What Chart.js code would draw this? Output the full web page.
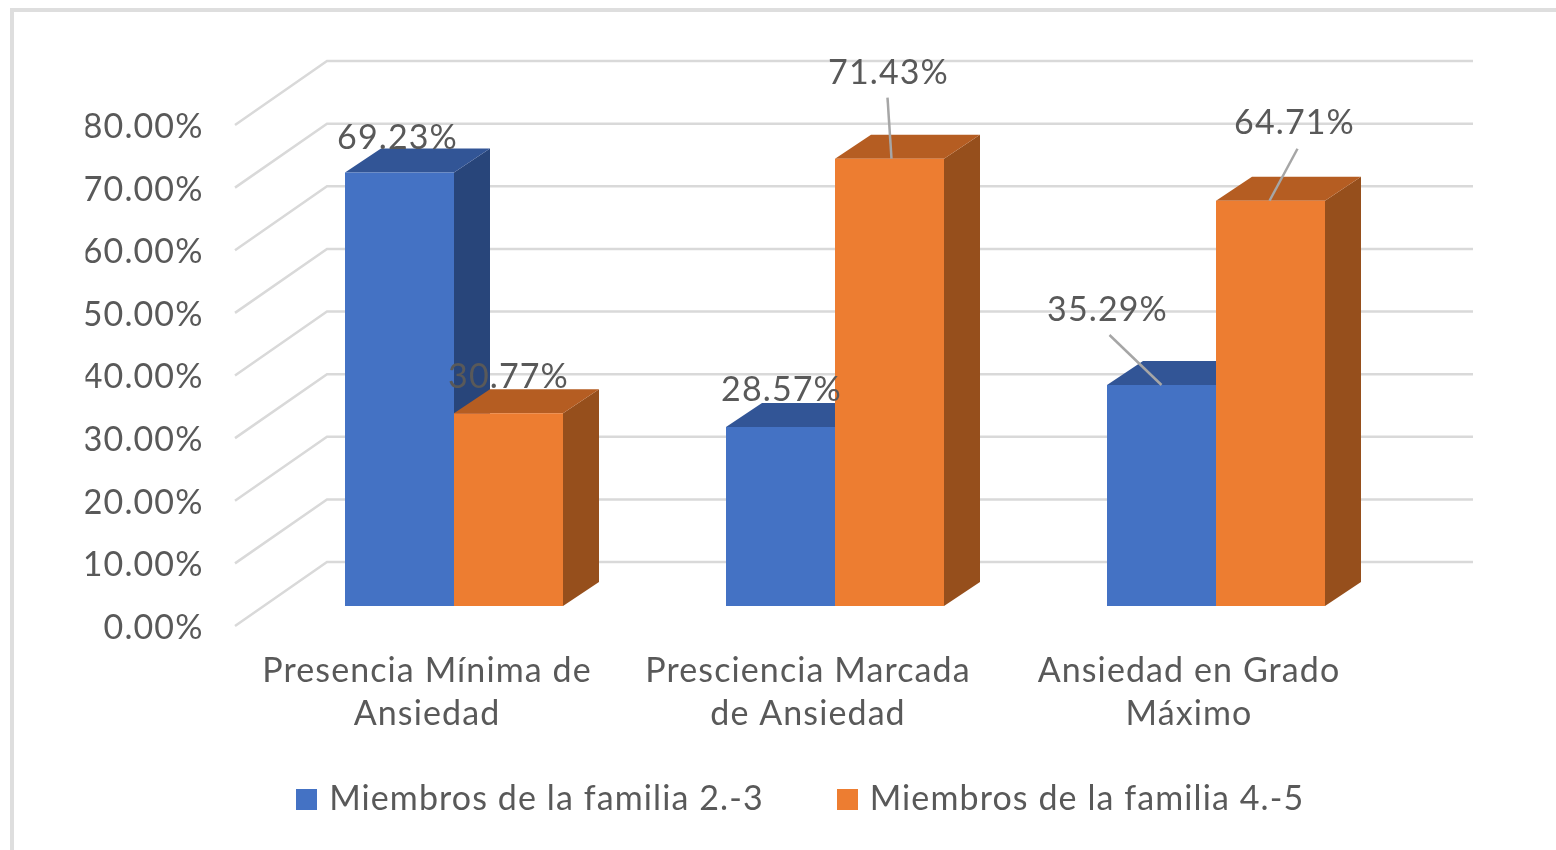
<!DOCTYPE html>
<html>
<head>
<meta charset="utf-8">
<script src="https://cdn.jsdelivr.net/npm/chart.js@4"></script>
<style>
html,body{margin:0;padding:0;background:#fff;overflow:hidden}
#wrap{position:relative;width:1556px;height:850px}
#frame{position:absolute;left:10px;top:8px;right:-10px;bottom:-10px;border-left:4px solid #dedede;border-top:4px solid #dedede}
canvas{position:absolute;left:0;top:0}
</style>
</head>
<body>
<div id="wrap"><div id="frame"></div><canvas id="c" width="1556" height="850"></canvas></div>
<script>
const categories = [["Presencia Mínima de","Ansiedad"],["Presciencia Marcada","de Ansiedad"],["Ansiedad en Grado","Máximo"]];
const seriesNames = ["Miembros de la familia 2.-3","Miembros de la familia 4.-5"];
const familia23 = [69.23,28.57,35.29];
const familia45 = [30.77,71.43,64.71];
const yTicks = [0,10,20,30,40,50,60,70,80];

const FONT = "Lato";
const FONT_SIZE = 34;
const TEXT = "#595959";
const GRID = "#d9d9d9";
const LEADER = "#a6a6a6";
const front = ["#4472C4","#ED7D31"];
const topFace = ["#325596","#B55D22"];
const sideFace = ["#28457A","#964F1C"];
const DEPTH = {x:36,y:-24};
/* label centre offset from the bar's top-centre; leader: [x1,y1,x2,y2] also relative */
const labelLayout = [
 [{dx:-2,dy:-34},{dx:1,dy:-37},{dx:-54,dy:-75,lead:[-52,-50,0,0]}],
 [{dx:0,dy:-36},{dx:-1,dy:-86,lead:[-2,-61,2,0]},{dx:24,dy:-78,lead:[27,-52,-1,0]}]
];

function swatch(color){
  const c=document.createElement('canvas');c.width=21;c.height=21;
  const g=c.getContext('2d');g.fillStyle=color;g.fillRect(0,0,21,21);
  return c;
}
const swatches = front.map(swatch);

const wall3d = {
  id:'wall3d',
  afterLayout(chart){
    const l=chart.legend;
    const dy=-32, dx=27;
    l.top+=dy;l.bottom+=dy;l.left+=dx;l.right+=dx;
  },
  beforeDraw(chart){ chart.ctx.letterSpacing='1.1px'; },
  beforeDatasetsDraw(chart){
    const {ctx,chartArea:a,scales:{y}}=chart;
    ctx.save();
    ctx.strokeStyle=GRID;ctx.lineWidth=2.5;ctx.lineJoin='miter';
    y.ticks.forEach(t=>{
      const py=y.getPixelForValue(t.value)+20;
      ctx.beginPath();
      ctx.moveTo(a.left-28.5,py);
      ctx.lineTo(a.left+63.5,py-64);
      ctx.lineTo(a.right+66.5,py-64);
      ctx.stroke();
    });
    chart.data.datasets.forEach((ds,di)=>{
      chart.getDatasetMeta(di).data.forEach(b=>{
        const l=b.x-b.width/2,r=b.x+b.width/2,t=b.y,bt=b.base;
        ctx.fillStyle=sideFace[di];
        ctx.beginPath();ctx.moveTo(r,t);ctx.lineTo(r+DEPTH.x,t+DEPTH.y);ctx.lineTo(r+DEPTH.x,bt+DEPTH.y);ctx.lineTo(r,bt);ctx.closePath();ctx.fill();
        ctx.fillStyle=topFace[di];
        ctx.beginPath();ctx.moveTo(l,t);ctx.lineTo(l+DEPTH.x,t+DEPTH.y);ctx.lineTo(r+DEPTH.x,t+DEPTH.y);ctx.lineTo(r,t);ctx.closePath();ctx.fill();
      });
    });
    ctx.restore();
  },
  afterDatasetsDraw(chart){
    const {ctx}=chart;
    ctx.save();
    ctx.font=FONT_SIZE+"px "+FONT;ctx.fillStyle=TEXT;ctx.textAlign='center';ctx.textBaseline='middle';
    chart.data.datasets.forEach((ds,di)=>{
      chart.getDatasetMeta(di).data.forEach((b,i)=>{
        const L=labelLayout[di][i];
        if(L.lead){
          ctx.strokeStyle=LEADER;ctx.lineWidth=2.5;
          ctx.beginPath();ctx.moveTo(b.x+L.lead[0],b.y+L.lead[1]);ctx.lineTo(b.x+L.lead[2],b.y+L.lead[3]);ctx.stroke();
        }
        ctx.fillText(ds.data[i].toFixed(2)+'%',b.x+L.dx,b.y+L.dy);
      });
    });
    ctx.restore();
  }
};

new Chart(document.getElementById('c'),{
  type:'bar',
  data:{
    labels:categories,
    datasets:[
      {label:seriesNames[0],data:familia23,backgroundColor:front[0],categoryPercentage:218/381,barPercentage:1},
      {label:seriesNames[1],data:familia45,backgroundColor:front[1],categoryPercentage:218/381,barPercentage:1}
    ]
  },
  options:{
    responsive:false,animation:false,
    layout:{padding:{left:85.5,right:149.5,top:105,bottom:-8}},
    plugins:{
      tooltip:{enabled:false},
      legend:{position:'bottom',labels:{
        usePointStyle:true,pointStyleWidth:11,boxHeight:21,padding:78,color:TEXT,font:{family:FONT,size:FONT_SIZE},
        generateLabels(chart){
          const items=Chart.defaults.plugins.legend.labels.generateLabels(chart);
          items.forEach((it,i)=>{it.pointStyle=swatches[i];});
          return items;
        }
      }}
    },
    scales:{
      x:{
        offset:true,
        grid:{display:false,drawTicks:false},border:{display:false},
        afterFit(s){s.height=130;},
        ticks:{color:TEXT,font:{family:FONT,size:FONT_SIZE,lineHeight:43/FONT_SIZE},padding:43.5,labelOffset:-27,maxRotation:0,minRotation:0,autoSkip:false}
      },
      y:{
        min:0,max:80,
        afterBuildTicks(s){s.ticks=yTicks.map(v=>({value:v}));},
        afterFit(s){s.width=178;},
        grid:{display:false,drawTicks:false},border:{display:false},
        ticks:{color:TEXT,font:{family:FONT,size:FONT_SIZE},padding:60,labelOffset:22,callback:v=>Number(v).toFixed(2)+'%'}
      }
    }
  },
  plugins:[wall3d]
});
</script>
</body>
</html>
